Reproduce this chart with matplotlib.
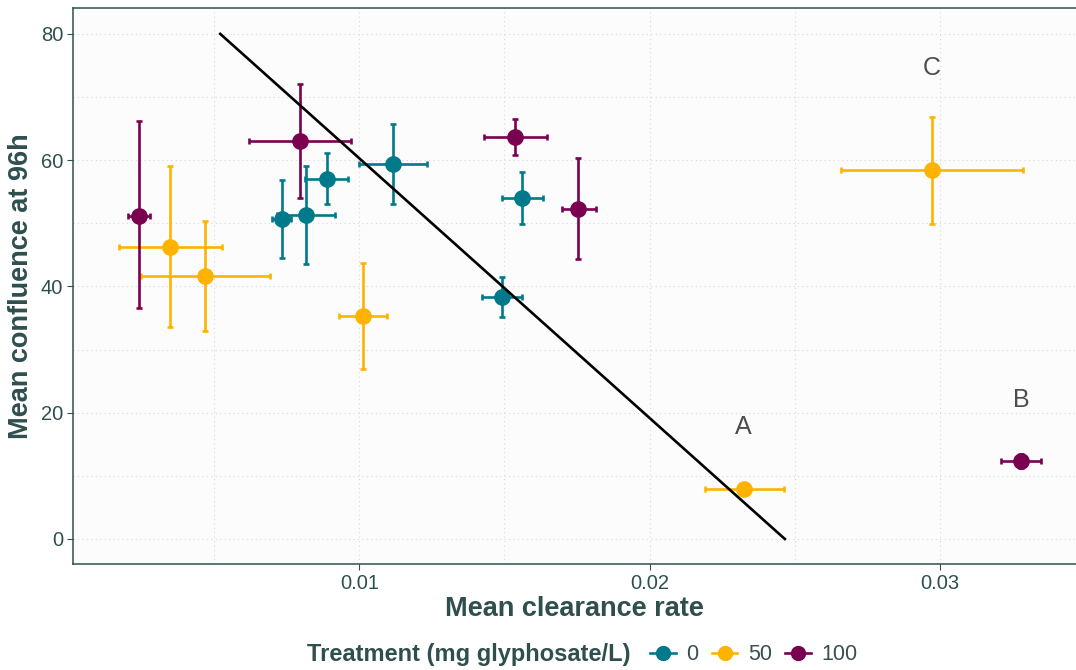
import matplotlib.pyplot as plt
from matplotlib.lines import Line2D
from matplotlib.ticker import MultipleLocator

plt.rcParams['font.family'] = ['Liberation Sans', 'DejaVu Sans']

# Treatment groups: mean clearance rate (x) and mean confluence at 96h (y)
groups = ['0', '50', '100']
colors = {'0': '#00798A', '50': '#FFB300', '100': '#7A0050'}

x_0 = [0.00735, 0.00817, 0.00890, 0.01117, 0.01562, 0.01490]
x_lo_0 = [0.00700, 0.00717, 0.00814, 0.01000, 0.01493, 0.01424]
x_hi_0 = [0.00766, 0.00917, 0.00962, 0.01234, 0.01634, 0.01559]
y_0 = [50.7, 51.3, 57.0, 59.4, 54.0, 38.3]
y_lo_0 = [44.5, 43.6, 53.1, 53.1, 49.9, 35.2]
y_hi_0 = [56.9, 59.1, 61.2, 65.7, 58.1, 41.5]

x_50 = [0.00348, 0.00469, 0.01014, 0.02324, 0.02972]
x_lo_50 = [0.00172, 0.00248, 0.00931, 0.02190, 0.02659]
x_hi_50 = [0.00528, 0.00693, 0.01097, 0.02462, 0.03286]
y_50 = [46.3, 41.7, 35.3, 7.9, 58.4]
y_lo_50 = [33.6, 33.0, 26.9, 7.9, 49.9]
y_hi_50 = [59.1, 50.4, 43.7, 7.9, 66.9]

x_100 = [0.00241, 0.00797, 0.01538, 0.01755, 0.03279]
x_lo_100 = [0.00203, 0.00621, 0.01431, 0.01697, 0.03210]
x_hi_100 = [0.00279, 0.00972, 0.01645, 0.01814, 0.03348]
y_100 = [51.2, 63.0, 63.7, 52.3, 12.4]
y_lo_100 = [36.6, 54.0, 60.8, 44.4, 11.2]
y_hi_100 = [66.2, 72.1, 66.5, 60.4, 13.5]

# fitted line endpoints
line_x = [0.00521, 0.02466]
line_y = [80, 0]

# point labels
label_text = ['A', 'B', 'C']
label_x = [0.02324, 0.03279, 0.02972]
label_y = [17.7, 22.0, 74.6]

data = {
    '0': (x_0, x_lo_0, x_hi_0, y_0, y_lo_0, y_hi_0),
    '50': (x_50, x_lo_50, x_hi_50, y_50, y_lo_50, y_hi_50),
    '100': (x_100, x_lo_100, x_hi_100, y_100, y_lo_100, y_hi_100),
}

slate = '#2F4F4F'

fig = plt.figure(figsize=(10.76, 6.70), dpi=100)
ax = fig.add_axes([73 / 1076, 1 - 564 / 670, 1 - 73 / 1076, (564 - 8) / 670])
ax.set_facecolor('#FCFCFC')

for g in groups:
    x, xlo, xhi, y, ylo, yhi = data[g]
    xerr = [[a - b for a, b in zip(x, xlo)], [b - a for a, b in zip(x, xhi)]]
    yerr = [[a - b for a, b in zip(y, ylo)], [b - a for a, b in zip(y, yhi)]]
    ax.errorbar(x, y, xerr=xerr, yerr=yerr, fmt='o', color=colors[g],
                markersize=11, elinewidth=1.9, capsize=2.5, capthick=1.9, zorder=3)

ax.plot(line_x, line_y, color='black', lw=1.9, zorder=4)

for t, lx, ly in zip(label_text, label_x, label_y):
    ax.text(lx, ly, t, fontsize=18, color='#4D4D4D', ha='center', va='center')

ax.set_xlim(0.000138, 0.03469)
ax.set_ylim(-3.96, 84.1)
ax.set_xticks([0.01, 0.02, 0.03])
ax.set_xticklabels(['0.01', '0.02', '0.03'])
ax.set_yticks([0, 20, 40, 60, 80])
ax.xaxis.set_minor_locator(MultipleLocator(0.005))
ax.yaxis.set_minor_locator(MultipleLocator(10))
ax.tick_params(which='minor', length=0)
ax.tick_params(which='major', length=4, color=slate, labelsize=14.5, labelcolor=slate, pad=3)
ax.grid(which='both', linestyle=(0, (1, 3)), color='#D9D9D9', lw=0.8)
ax.set_axisbelow(True)

for s in ['left', 'bottom', 'top']:
    ax.spines[s].set_color(slate)
    ax.spines[s].set_linewidth(1.1)
ax.spines['right'].set_visible(False)

ax.set_xlabel('Mean clearance rate', fontsize=19.5, fontweight='bold', color=slate, labelpad=2)
ax.set_ylabel('Mean confluence at 96h', fontsize=19.5, fontweight='bold', color=slate, labelpad=5)

# legend
fig.text(307 / 1076, 1 - 655 / 670, 'Treatment (mg glyphosate/L)', fontsize=17,
         fontweight='bold', color=slate, ha='left', va='center')
handles = [Line2D([0], [0], color=colors[g], marker='o', markersize=10, lw=1.9) for g in groups]
leg = fig.legend(handles, groups, loc='center left', bbox_to_anchor=(650 / 1076, 1 - 655 / 670),
                 ncol=3, frameon=False, fontsize=15.5, handlelength=1.2, handletextpad=0.5,
                 columnspacing=0.6, borderpad=0, borderaxespad=0)
for t in leg.get_texts():
    t.set_color('#3A4F4F')

fig.savefig('out.png', dpi=100)
